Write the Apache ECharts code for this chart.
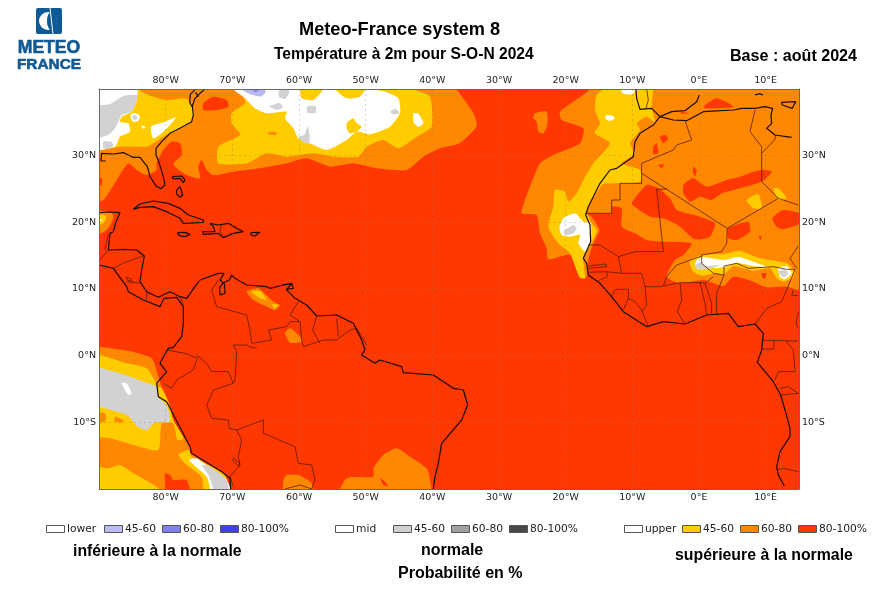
<!DOCTYPE html>
<html>
<head>
<meta charset="utf-8">
<title>Meteo-France system 8</title>
<script src="https://cdn.jsdelivr.net/npm/echarts@6/dist/echarts.min.js"></script>
<style>
  html, body { margin: 0; padding: 0; background: #fff; }
  #chart { width: 875px; height: 589px; }
</style>
</head>
<body>
<div id="chart"></div>
<script>
// ticks of the map, in degrees
const lonTicks = [-80, -70, -60, -50, -40, -30, -20, -10, 0, 10];
const latTicks = [-10, 0, 10, 20, 30];

// legend
const legendLower = ['lower', '45-60', '60-80', '80-100%'];
const legendMid = ['mid', '45-60', '60-80', '80-100%'];
const legendUpper = ['upper', '45-60', '60-80', '80-100%'];

// probability areas, [lon, lat]
const frame = [[-92, 42], [17, 42], [17, -22], [-92, -22]];

const orangeAtlantic = [[-92, 42], [-37.5, 42], [-36.35, 40], [-33.85, 36.35], [-33.35, 34.4], [-35.85, 31.9], [-38.85, 31.1], [-41.35, 29.85], [-43.85, 27.85], [-48.35, 28.1], [-51.85, 28.85], [-55.35, 28.35], [-58.85, 29.6], [-61.85, 28.85], [-65.85, 28.1], [-69.85, 27.6], [-72.85, 27.1], [-73.85, 27.85], [-74.6, 29.35], [-75.1, 28.35], [-74.85, 26.6], [-76.85, 27.1], [-78.35, 28.1], [-78.85, 28.85], [-77.6, 30.1], [-77.85, 31.85], [-79.1, 32.1], [-80.35, 30.85], [-81.35, 28.85], [-81.35, 27.85], [-82.85, 27.1], [-84.35, 27.85], [-85.6, 28.85], [-87.35, 26.35], [-88.6, 24.35], [-89.35, 23.35], [-92, 22.5]];
const orangeAfrica = [[-17, 42], [-16.35, 40], [-20.85, 36.6], [-20.6, 35.35], [-17.35, 34.1], [-17.85, 31.85], [-21.85, 30.1], [-23.85, 28.85], [-25.35, 25.35], [-26.1, 23.35], [-26.6, 21.35], [-24.35, 21.1], [-23.85, 18.35], [-22.85, 16.1], [-22.6, 14.45], [-19.35, 15.1], [-17.85, 11.6], [-16.85, 11.85], [-16.6, 14.35], [-15.85, 16.85], [-14.95, 18.85], [-16.1, 20.85], [-16.95, 21.35], [-13.1, 21.35], [-13.1, 22.35], [-11.6, 22.1], [-11.6, 19.35], [-9.6, 18.35], [-7.85, 17.35], [-5.6, 17.1], [-1.1, 16.85], [-2.35, 15.1], [-3.6, 14.35], [-4.85, 11.85], [-2.85, 10.85], [0.65, 11.35], [3.65, 10.45], [5.15, 11.85], [8.15, 11.1], [10.15, 10.25], [13.15, 10.35], [14.9, 9.85], [17, 9.6], [17, 42]];
const orangeYucatan = [[-92, 21.7], [-88.1, 21.45], [-87.85, 20.6], [-88.85, 18.85], [-92, 17.5]];
const orangePacific = [[-92, 0.9], [-86.35, 0.85], [-82.1, -0.4], [-81.1, -3.15], [-80.6, -4.65], [-79.6, -6.9], [-78.85, -9.65], [-77.35, -12.15], [-76.35, -13.9], [-76.35, -14.65], [-71.35, -17.65], [-70.35, -19.9], [-70.2, -22], [-92, -22]];
const orangeOrinoco = [[-67.85, 9.6], [-66.1, 10.1], [-63.85, 8.1], [-62.85, 7.6], [-63.6, 6.85], [-64.85, 7.35], [-66.85, 8.35]];
const orangeGuiana = [[-62.1, 3.35], [-61.35, 4.1], [-59.85, 2.85], [-59.6, 2.1], [-61.35, 1.95]];
const orangeBrazil = [[-54.3, -22], [-52.85, -18.4], [-48.85, -18.15], [-48.85, -16.9], [-47.35, -14.9], [-45.35, -13.9], [-43.35, -15.15], [-40.85, -16.9], [-40.35, -18.65], [-40.2, -22]];
const orangeChaco = [[-62.35, -18.65], [-61.85, -17.9], [-60.1, -17.9], [-58.1, -19.15], [-57.7, -22], [-62.2, -22]];
const orangeAzores = [[-24.6, 36.35], [-22.85, 36.6], [-22.75, 34.6], [-23.35, 33.35], [-24.1, 33.6], [-24.35, 35.1], [-24.85, 35.6]];
const orangeBitNorth = [[-64.6, 33.5], [-63.4, 33.5], [-63.4, 33.1], [-64.6, 33.2]];
const orangeBitWest = [[-92, -8.65], [-89.1, -8.65], [-89.1, -9.9], [-92, -9.9]];
const orangeBitEast = [[-87.6, -9.15], [-86.35, -9.65], [-86.35, -10], [-87.6, -9.9]];

const yellowWest = [[-92, 30.9], [-86.85, 31.35], [-82.85, 31.35], [-81.85, 31.85], [-80.35, 32.85], [-78.35, 33.85], [-76.35, 34.85], [-75.75, 36.35], [-76.1, 37.85], [-77.1, 38.6], [-79.85, 38.35], [-82.6, 39.1], [-84.1, 40], [-84.8, 42], [-92, 42]];
const yellowNorth = [[-72.1, 28.85], [-72.1, 31.35], [-68.85, 33.1], [-70.1, 34.85], [-70.1, 36.35], [-68.1, 37.85], [-68.35, 38.85], [-69.85, 40], [-71, 42], [-41, 42], [-42.6, 40], [-40.35, 38.85], [-40.1, 34.35], [-42.35, 32.85], [-45.1, 31.1], [-47.35, 32.35], [-49.85, 31.35], [-51.1, 29.85], [-54.85, 29.85], [-57.85, 30.35], [-61.85, 29.85], [-64.85, 30.35], [-67.85, 28.85]];
const yellowCoast = [[-13.5, 42], [-14.35, 39.95], [-15.35, 39.1], [-15.6, 36.85], [-14.85, 34.85], [-15.6, 33.35], [-13.35, 31.85], [-15.85, 28.85], [-17.35, 26.35], [-18.35, 24.35], [-19.6, 23.1], [-20.1, 24.6], [-21.6, 24.85], [-21.85, 22.35], [-22.6, 19.35], [-21.1, 16.85], [-19.35, 15.35], [-17.95, 11.85], [-17.1, 11.6], [-17.35, 14.6], [-16.1, 16.85], [-15.35, 18.85], [-16.1, 19.85], [-16.85, 21.85], [-15.1, 24.85], [-14.35, 25.75], [-8.85, 26.1], [-8.85, 27.85], [-11.6, 28.85], [-9.6, 30.35], [-10.35, 31.85], [-8.85, 33.85], [-9.35, 34.85], [-7.85, 35.85], [-6.6, 35], [-7.1, 37.35], [-6.85, 40], [-6.8, 42]];
const yellowSahel = [[-1.35, 14.35], [0.4, 15.1], [3.65, 15.25], [6.15, 15.7], [9.15, 14.6], [13.15, 13.85], [14.4, 12.6], [13.9, 11.6], [12.65, 11.1], [11.65, 11.6], [10.65, 13.1], [8.15, 12.75], [5.15, 13.45], [3.65, 12.1], [2.65, 12.35], [0.4, 12], [-0.85, 12.6], [-1.35, 13.6]];
const yellowAir = [[7.15, 23.35], [8.9, 24.25], [9.4, 22.1], [8.15, 22.1]];
const yellowLibya = [[11.15, 25.1], [11.9, 25.1], [13.15, 23.6], [11.9, 23.35]];
const yellowYucatan = [[-92, 21.3], [-89, 21], [-89.2, 20], [-92, 18.6]];
const yellowOrinoco = [[-67.1, 9.6], [-65.85, 9.7], [-64.85, 8.35], [-65.85, 8.6]];
const yellowOrinocoEast = [[-64.1, 7.75], [-63.1, 7.6], [-63.6, 7.1]];
const yellowPacific = [[-92, 0.2], [-85.85, -1.15], [-82.85, -1.9], [-81.1, -4.65], [-80.6, -4.9], [-79.6, -6.9], [-78.85, -9.65], [-77.35, -12.4], [-78.25, -12.65], [-78.85, -10.15], [-80.6, -10.15], [-81.1, -14.15], [-84.85, -13.4], [-88.35, -12.4], [-92, -11.7]];
const yellowSouth = [[-92, -16.5], [-88.6, -16.9], [-86.85, -16.4], [-84.85, -17.65], [-81.1, -19.9], [-80, -22], [-92, -22]];
const yellowChile = [[-78.1, -14.9], [-76.6, -14.15], [-76.1, -15.15], [-71.35, -17.65], [-70.35, -20], [-70.2, -22], [-74.4, -22], [-74.35, -20], [-74.6, -18.15], [-76.85, -16.4]];
const yellowBlob = [[-52.85, 34.85], [-51.85, 35.6], [-51.35, 34.85], [-50.6, 34.35], [-51.35, 33.6], [-52.35, 33.35], [-52.85, 34.1]];

const whiteNorth = [[-69.85, 40], [-68.1, 38.6], [-66.6, 37.1], [-64.85, 36.35], [-61.85, 36.6], [-62.1, 35.6], [-60.85, 34.1], [-60.1, 32.6], [-58.35, 31.85], [-55.85, 30.85], [-52.85, 32.35], [-51.35, 33.6], [-49.35, 33.2], [-46.35, 34.35], [-44.85, 36.35], [-45.1, 38.6], [-47.1, 39.6], [-49.85, 40], [-50.85, 38.85], [-52.85, 38.6], [-54.6, 40], [-55, 42], [-56, 42], [-56.35, 40], [-57.85, 38.35], [-59.6, 38.6], [-59.85, 40], [-60, 42], [-70.5, 42]];
const whiteWest = [[-92, 42], [-84.35, 42], [-84.35, 38.35], [-85.1, 36.6], [-86.6, 35.85], [-86.85, 35.1], [-85.6, 34.85], [-85.35, 33.6], [-86.85, 32.85], [-87.6, 31.35], [-92, 30.95]];
const whiteCape = [[-82.2, 34.35], [-80.1, 35.1], [-78.45, 35.75], [-79.35, 34.6], [-80.35, 33.6], [-81.85, 32.6]];
const whiteSpot = [[-83.6, 34.6], [-83, 34.2], [-83.5, 34.1]];
const whiteRing = [[-85.3, 36.1], [-84.6, 36.4], [-83.9, 36], [-84.1, 35.2], [-84.9, 35.1]];
const whiteEast = [[-42.85, 36.35], [-42.1, 36.3], [-41.35, 34.9], [-42.1, 34.3], [-42.8, 35]];
const whiteGibraltar = [[-12, 42], [-9.2, 42], [-9.85, 39.3], [-11.5, 39.4]];
const whiteMadeira = [[-14, 36], [-13, 36], [-12.6, 35.6], [-13.4, 35.2], [-14, 35.5]];
const whiteSenegal = [[-20.95, 19.1], [-20.35, 20.6], [-18.6, 21.35], [-17.35, 20.1], [-16.25, 19.85], [-16.25, 17.1], [-17.1, 15.6], [-18.1, 16.85], [-17.85, 18.1], [-19.35, 17.85], [-20.6, 18.1]];
const whiteSahel = [[-0.35, 14.35], [0.65, 14.75], [3.65, 14.35], [5.9, 14.85], [8.15, 14.1], [10.4, 13.25], [8.15, 13.45], [5.65, 13.95], [3.65, 13.25], [1.65, 13.1], [-0.1, 12.95], [-0.6, 13.6]];
const whiteChad = [[11.9, 13.1], [13.15, 13.45], [13.9, 12.35], [12.9, 11.45], [12.15, 11.85]];
const whiteNazca = [[-86.6, -4.15], [-85.85, -4.15], [-85.1, -5.65], [-85.6, -5.9]];
const whiteChile = [[-76.5, -15.65], [-75.35, -15.4], [-70.6, -19.15], [-70.35, -20], [-70.3, -22], [-73.4, -22], [-73.35, -20], [-73.85, -18.15]];
const whiteYucatan = [[-92, 20.9], [-89.5, 20.3], [-92, 19.4]];

const greyWest = [[-92, 37.2], [-88.35, 37.75], [-86.35, 38.95], [-84.35, 39.1], [-84.35, 38.35], [-85.1, 36.6], [-86.6, 36.1], [-87.1, 35.1], [-87.6, 34.1], [-88.6, 33.1], [-92, 32.4]];
const greyWestSmall = [[-89.35, 32.1], [-88.1, 32.1], [-87.85, 31.4], [-88.6, 31], [-89.35, 31.2]];
const greyRing = [[-85, 35.9], [-84.6, 36.1], [-84.2, 35.8], [-84.4, 35.4], [-84.8, 35.4]];
const greyNorthA = [[-62.95, 40], [-63, 38.8], [-62.1, 38.5], [-61.5, 39.4], [-61.6, 40]];
const greyNorthB = [[-64.4, 37.4], [-62.9, 37.9], [-62.4, 37.2], [-63.5, 36.9]];
const greyNorthC = [[-58.75, 37.4], [-57.5, 37.4], [-57.5, 36.45], [-58.75, 36.45]];
const greyNorthD = [[-60.1, 32.85], [-59.2, 33.1], [-58.7, 34.4], [-58.4, 33], [-58.5, 31.8], [-59.6, 32.2]];
const greyNorthE = [[-46.3, 36.6], [-45.5, 37], [-44.9, 36.4], [-45.8, 36.2]];
const greySenegal = [[-20.35, 18.6], [-18.85, 19.6], [-18.35, 19.1], [-18.85, 18.35], [-19.85, 18.1]];
const greySahel = [[-0.6, 13.6], [0.4, 14.1], [0.9, 13.45], [3.15, 13.6], [2.15, 13.2], [0.4, 12.95], [-0.35, 13.1]];
const greyChad = [[11.9, 12.6], [12.9, 12.95], [13.4, 12.25], [12.65, 11.75]];
const greyNazca = [[-92, -1.6], [-86.85, -2.65], [-83.35, -3.9], [-81.35, -4.65], [-81.1, -6.15], [-79.85, -7.4], [-79.35, -9.9], [-81.6, -10.05], [-82.85, -11.15], [-84.1, -10.75], [-85.85, -8.9], [-92, -6.7]];
const greyChile = [[-74.6, -16.4], [-73.35, -16.65], [-70.85, -18.55], [-70.6, -20], [-70.5, -22], [-72.85, -22], [-72.85, -20], [-73.6, -17.9]];

const blueCapeA = [[-68.6, 40], [-67.6, 39.35], [-65.85, 38.85], [-65.1, 39.35], [-65.1, 41], [-68.6, 41]];
const blueCapeB = [[-67.2, 40], [-66.5, 39.5], [-65.8, 40]];

const redCarolina = [[-74.35, 37.85], [-72.85, 38.85], [-70.85, 38.35], [-70.6, 37.35], [-72.35, 36.85], [-74.35, 36.85]];
const redGulf = [[-92, 27], [-89.6, 26.6], [-89.6, 25.6], [-92, 25.2]];
const redMoroccoA = [[-5.85, 32.85], [-5.1, 33.1], [-4.6, 32.6], [-5.35, 31.85]];
const redMoroccoB = [[-6.85, 31.35], [-6.35, 31.85], [-6.1, 30.35], [-6.85, 30.25]];
const redMoroccoC = [[-6.1, 28.6], [-5.25, 28.7], [-5.6, 28.1]];
const redAlgeriaA = [[-0.85, 28.35], [-0.35, 27.85], [-0.6, 26.85], [-0.9, 27.5]];
const redAlgeriaB = [[0.65, 37.35], [2.65, 38.6], [5.15, 37.35], [1.15, 37.1]];
const redAlboran = [[-2.85, 36.6], [-1.35, 36.35], [-2.5, 36.3]];
const redMali = [[-10.1, 22.85], [-7.85, 25.6], [-6.1, 25.1], [-4.35, 23.6], [-3.35, 21.85], [0.15, 20.85], [2.4, 19.85], [1.65, 17.85], [-0.6, 17.45], [-2.85, 19.35], [-5.35, 20.6], [-7.35, 20.85], [-9.35, 22.1]];
const redSahara = [[-1.85, 26.1], [-0.85, 26.6], [1.15, 25.35], [4.15, 26.35], [6.15, 26.85], [8.15, 27.6], [9.65, 27.85], [10.9, 27.6], [9.4, 26.1], [5.15, 24.85], [3.4, 24.35], [1.9, 23.35], [0.15, 23.85], [-1.35, 23.1], [-2.35, 24.35], [-2.35, 25.6]];
const redNiger = [[4.4, 19.1], [7.4, 20.1], [7.65, 18.6], [5.65, 17.35], [4.4, 17.6]];
const redChad = [[11, 20.6], [12.65, 21.85], [16, 21.1], [16, 20.1], [12.65, 18.95], [11.65, 19.35]];
const redSpot = [[9, 17.9], [9.4, 17.9], [9.2, 17.3]];
const redNigeria = [[9.4, 12.35], [10.1, 12.35], [9.9, 11.6], [9.5, 11.7]];
const redPacific = [[-80.1, -17.65], [-79.35, -17.9], [-78.85, -18.65], [-76.85, -18.65], [-76.2, -22], [-79.8, -22], [-80.1, -18.65]];
const redBrazil = [[-47.85, -18.4], [-47.1, -18.9], [-46.6, -19.65], [-47.35, -19.4]];

// coastlines and borders, [lon, lat]
const coastAmericaNorth = [[-74.25, 39.85], [-74.85, 39.35], [-75.6, 38.6], [-76, 37.45], [-75.85, 36.1], [-76.1, 35.1], [-77.6, 34.25], [-79.35, 33.35], [-80.6, 32.1], [-81.45, 31.1], [-81.45, 30.1], [-80.95, 28.85], [-80.35, 26.85], [-80.1, 25.6], [-80.7, 25.05], [-81.45, 25.45], [-82.35, 26.85], [-82.75, 28.35], [-83.85, 29.75], [-84.85, 29.75], [-85.6, 30.1], [-86.35, 30.45], [-87.85, 30.25], [-89.6, 30.35], [-89.7, 29.2], [-89, 29.2]];
const coastChesapeake = [[-75.6, 39.9], [-76.3, 39.2], [-76.4, 38], [-76, 37.3]];
const coastDelaware = [[-75.5, 39.5], [-75.1, 38.8]];
const coastBahamaA = [[-79, 26.85], [-77.6, 26.95], [-77.1, 26.35], [-77.35, 25.95], [-77.85, 26.6], [-78.85, 26.5], [-79, 26.85]];
const coastBahamaB = [[-78.35, 24.85], [-77.85, 25.35], [-77.45, 24.1], [-77.85, 23.75], [-78.35, 24.25], [-78.35, 24.85]];
const coastCuba = [[-84.85, 21.95], [-83.85, 22.75], [-81.85, 23.2], [-79.6, 22.85], [-77.85, 22.1], [-76.6, 21.1], [-74.35, 20.35], [-74.35, 20], [-77.35, 19.85], [-77.85, 20.6], [-79.85, 21.6], [-81.85, 22.35], [-83.85, 22.25], [-84.85, 21.95]];
const coastJamaica = [[-78.25, 18.45], [-77.1, 18.5], [-76.35, 18.2], [-77.1, 17.85], [-77.95, 18], [-78.25, 18.45]];
const coastHispaniola = [[-73.35, 19.85], [-72.1, 19.6], [-70.6, 19.85], [-69.35, 19.1], [-68.35, 18.6], [-69.85, 18.35], [-71.35, 17.7], [-72.1, 18.35], [-74.35, 18.2], [-74.45, 18.6], [-72.6, 18.6], [-72.85, 19.35], [-73.35, 19.85]];
const coastPuertoRico = [[-67.25, 18.45], [-65.85, 18.5], [-65.6, 18.2], [-66.6, 17.95], [-67.2, 18.1], [-67.25, 18.45]];
const coastCaribbean = [[-90, 21.45], [-88.35, 21.55], [-86.85, 21.45], [-87.45, 20.1], [-87.85, 18.6], [-88.35, 18.35], [-88.6, 15.85], [-86.35, 15.95], [-84.35, 15.85], [-83.2, 14.95], [-83.6, 12.85], [-83.85, 11.1], [-82.85, 9.6], [-81.1, 8.75], [-79.35, 9.6], [-77.85, 8.85], [-76.85, 8.6], [-75.6, 10.35], [-74.85, 11.35], [-72.1, 12.35], [-71.25, 12.35], [-71.85, 11.35], [-71.2, 10.8], [-71.1, 9.35], [-71.85, 9.1], [-71.9, 10.2], [-71.4, 10.9], [-70.45, 11.35], [-70.1, 12.1], [-69.6, 11.6], [-67.85, 10.6], [-64.85, 10.35], [-64.35, 10.1], [-62.35, 10.6], [-61.1, 10.75], [-61.9, 9.9], [-60.6, 8.6], [-58.85, 7.6], [-57.35, 5.95], [-54.35, 6.1], [-51.85, 4.85], [-50.6, 2.35], [-50.1, 0.85], [-50.6, 0.1], [-48.6, -1.15], [-47.85, -0.65], [-44.6, -1.65], [-44.35, -2.55], [-39.85, -2.9], [-36.85, -4.9], [-35.35, -5.15], [-34.7, -7.4], [-35.6, -9.65], [-38.6, -13.15], [-39.1, -16.15], [-39.6, -18.15], [-39.85, -20]];
const coastPacificCentral = [[-89.95, 13.6], [-87.85, 13.1], [-85.85, 10.35], [-85.6, 9.6], [-83.35, 8.35], [-80.85, 7.35], [-80.25, 8.6], [-78.35, 8.75], [-77.35, 7.35], [-77.35, 4.85], [-77.6, 2.85], [-78.85, 1.25], [-79.6, 1.1], [-80.85, -1.15], [-79.85, -2.4], [-81.35, -4.15], [-81.1, -6.15], [-79.85, -6.9], [-76.35, -13.65], [-76.1, -14.65], [-71.6, -17.4], [-70.35, -18.4], [-70.25, -20]];
const coastTrinidad = [[-62.6, 10.6], [-61.1, 10.85], [-60.85, 10.1], [-61.85, 9.95]];
const coastIberia = [[0.05, 39.1], [-0.35, 38.1], [-2.1, 36.75], [-4.1, 36.6], [-5.85, 35.85], [-7.1, 37.1], [-8.85, 36.95], [-9.35, 38.6], [-9.45, 39.85]];
const coastAfricaNorth = [[13.9, 32.75], [11.4, 33.1], [10.15, 34.1], [10.9, 34.85], [10.8, 36.1], [11.05, 37.1], [9.9, 37.35], [8.4, 37.1], [6.4, 37.1], [5.15, 36.85], [0.65, 36.6], [-1.85, 35.25], [-3.85, 35.35], [-5.85, 35.85]];
const coastAfricaWest = [[-5.85, 35.85], [-6.85, 34.6], [-8.85, 33.35], [-9.6, 32.1], [-9.85, 29.85], [-12.35, 28.1], [-13.35, 27.85], [-14.85, 25.85], [-16.1, 23.35], [-16.6, 22.35], [-17, 21.1], [-16.35, 19.6], [-16.25, 17.1], [-17.35, 14.6], [-16.85, 13.85], [-16.6, 12.1], [-14.85, 10.85], [-13.1, 8.85], [-11.35, 6.6], [-7.85, 4.35], [-5.35, 5.1], [-2.1, 4.75], [1.15, 6.1], [4.4, 6.35], [5.9, 4.35], [8.4, 4.75], [9.65, 3.35], [9.4, 0.85], [8.75, -1], [11.15, -3.9], [12.25, -5.9], [13.05, -8.65], [13.65, -10.9], [13.65, -12.15], [12.15, -14.4], [11.65, -16.65], [11.9, -17.9], [12.8, -19.55]];
const coastSicily = [[12.35, 38], [14.5, 38.1], [14, 37.1], [12.5, 37.6], [12.35, 38]];
const coastSardinia = [[8.4, 39.1], [9.1, 39.3], [9.6, 39.1]];

const borderLines = [
  [[-71.6, 19.85], [-71.85, 18.6], [-71.35, 17.7]],
  [[-88.6, 15.85], [-90, 14.2]],
  [[-88.6, 18.2], [-89.1, 15.9]],
  [[-83.35, 14.95], [-86.35, 13.9], [-87.85, 13.1]],
  [[-85.85, 11.1], [-83.85, 10.9]],
  [[-82.85, 9.6], [-82.85, 8.35]],
  [[-77.85, 8.85], [-77.35, 7.6]],
  [[-85.95, 11.8], [-85.1, 11.45], [-85.1, 11.1], [-85.75, 11.35], [-85.95, 11.8]],
  [[-72.1, 11.35], [-73.1, 9.85], [-72.35, 7.35], [-67.85, 6.1], [-67.35, 3.85], [-67.1, 1.85]],
  [[-67.1, 1.85], [-64.1, 2.35], [-64.6, 3.85], [-61.85, 4.35], [-61.35, 5.1], [-59.85, 5.1], [-59.6, 2.35], [-59.35, 1.35]],
  [[-60.1, 8.1], [-61.35, 6.1], [-59.85, 5.1]],
  [[-57.35, 5.85], [-57.95, 3.85], [-56.85, 1.85]],
  [[-54.35, 5.6], [-54.1, 2.85]],
  [[-59.35, 1.35], [-56.35, 2.35], [-54.35, 2.35], [-52.35, 3.85], [-51.35, 4.1], [-49.85, 1.6]],
  [[-69.85, 1.6], [-69.35, 0.6], [-69.6, -3.65], [-69.85, -4.15]],
  [[-69.85, 1.6], [-67.85, 1.6], [-67.35, 1.3], [-66.35, 1.1]],
  [[-69.85, -4.15], [-70.6, -2.4], [-73.1, -2.4], [-73.85, -1.15], [-75.35, 0.1]],
  [[-79.85, 0.85], [-77.1, 0.35], [-75.25, -0.4]],
  [[-75.25, -0.4], [-75.85, -2.15], [-78.35, -3.65], [-79.1, -4.9], [-80.35, -4.15]],
  [[-69.85, -4.15], [-72.85, -5.15], [-73.85, -7.4], [-73.1, -9.4], [-70.6, -9.65], [-70.45, -10.9], [-69.35, -11.15]],
  [[-69.35, -11.15], [-65.35, -9.65], [-65.35, -11.65], [-60.6, -13.65], [-60.1, -16.15], [-58.1, -16.4], [-57.6, -18.65], [-58.1, -20]],
  [[-69.35, -11.15], [-68.6, -12.65], [-69.1, -15.15], [-68.85, -16.4], [-70.35, -18.15]],
  [[-69.85, -15.4], [-68.85, -16.15], [-68.95, -16.55], [-69.95, -15.75], [-69.85, -15.4]],
  [[-70.35, -18.15], [-69.85, -19.65]],
  [[-62.1, -20], [-59.85, -19.4], [-58.1, -20]],
  [[-7.85, 39.95], [-7.6, 38.35], [-7.95, 37.1]],
  [[-2.1, 35.25], [-1.1, 32.35], [-3.35, 31.6], [-3.85, 30.85], [-8.6, 28.85], [-8.6, 25.85], [-11.85, 25.85], [-11.85, 23.35], [-13.1, 23.35], [-13.1, 21.35], [-17, 21.35]],
  [[-8.6, 27.35], [-2.35, 23.35], [2.65, 20.1], [4.25, 19.1], [11.9, 23.6], [14.9, 22.6]],
  [[-6.35, 24.95], [-5.35, 15.6], [-9.6, 15.6], [-12.1, 14.85], [-14.85, 16.6], [-16.6, 16.6]],
  [[-6.35, 24.95], [-4.85, 25]],
  [[8.4, 36.85], [7.65, 33.6], [9.4, 31.35], [9.4, 30.35]],
  [[11.4, 33.1], [11.4, 32.45], [9.4, 30.35], [9.4, 26.1], [11.15, 24.35], [11.9, 23.6]],
  [[4.25, 19.1], [4.15, 16.85], [3.4, 15.6], [0.4, 15.1], [0.4, 13.85], [2.15, 12.35], [3.75, 12.1]],
  [[0.4, 14.95], [-3.35, 13.6], [-4.85, 11.85], [-5.35, 10.45]],
  [[3.75, 12.1], [3.75, 13.45], [5.65, 13.85], [7.4, 13.1], [11.15, 13.35], [13.15, 12.95], [14.4, 12.95]],
  [[14.9, 16.45], [13.65, 14.6], [14.65, 13.1]],
  [[3.75, 12.1], [2.65, 9.35], [2.65, 6.35]],
  [[-5.35, 10.45], [-2.85, 10.95], [0.15, 10.95], [0.9, 10.85], [2.15, 11.85]],
  [[-2.85, 10.95], [-2.6, 8.35], [-3.25, 6.6], [-2.1, 4.75]],
  [[0.15, 10.95], [0.9, 7.85], [1.15, 6.1]],
  [[0.9, 10.85], [1.9, 7.85], [1.9, 6.1]],
  [[-12.1, 14.85], [-11.6, 12.35]],
  [[-16.6, 12.5], [-13.85, 12.6], [-11.6, 12.35], [-8.6, 12.35], [-8.1, 10.35], [-5.85, 10.35], [-5.35, 10.45]],
  [[-16.6, 13.45], [-13.95, 13.75], [-13.85, 13.35], [-16.6, 13.1]],
  [[-13.85, 12.6], [-13.75, 11.85], [-15.1, 11.25]],
  [[-13.1, 8.85], [-12.6, 9.95], [-10.6, 9.95], [-10.6, 8.6], [-11.35, 6.85]],
  [[-10.6, 8.6], [-9.6, 8.1], [-8.6, 6.85], [-7.6, 4.35]],
  [[-8.1, 10.35], [-7.85, 7.6], [-8.6, 6.6]],
  [[14.4, 12.95], [13.15, 9.85], [12.4, 8.1], [10.15, 7.1], [8.4, 4.75]],
  [[14.15, 9.85], [13.9, 9.1], [14.9, 9]],
  [[14.9, 6.6], [14.55, 4.85], [14.9, 4.1]],
  [[9.4, 2.3], [14.9, 2.2]],
  [[11.25, 2.3], [11.25, 1], [9.4, 1]],
  [[13.05, 2.2], [14.15, 0.85], [14.4, -2.4], [11.9, -2.4], [11.4, -3.65]],
  [[12.15, -4.9], [13.4, -4.65], [14.9, -5.65]],
  [[12.25, -5.9], [14.9, -5.65]],
  [[11.65, -17.15], [12.65, -16.9], [14.9, -17.4]]
];

const RED = '#ff3700', ORANGE = '#ff8800', YELLOW = '#ffcc00', WHITE = '#ffffff', GREY = '#d2d2d2', BLUE1 = '#b9b9f5', BLUE2 = '#8585ee';

// painted in this order, later areas sit on top
const layers = [
  [RED, [frame]],
  [ORANGE, [orangeAtlantic, orangeAfrica, orangeYucatan, orangePacific, orangeOrinoco, orangeGuiana, orangeBrazil, orangeChaco, orangeAzores]],
  [YELLOW, [yellowWest, yellowNorth, yellowCoast, yellowSahel, yellowAir, yellowLibya, yellowYucatan, yellowOrinoco, yellowOrinocoEast, yellowPacific, yellowSouth, yellowChile]],
  [WHITE, [whiteNorth, whiteWest, whiteCape, whiteSpot, whiteRing, whiteEast, whiteGibraltar, whiteMadeira, whiteSenegal, whiteSahel, whiteChad, whiteChile, whiteYucatan]],
  [GREY, [greyWest, greyWestSmall, greyRing, greyNorthA, greyNorthB, greyNorthC, greyNorthD, greyNorthE, greySenegal, greySahel, greyChad, greyNazca, greyChile]],
  [WHITE, [whiteNazca]],
  [YELLOW, [yellowBlob]],
  [ORANGE, [orangeBitNorth, orangeBitWest, orangeBitEast]],
  [BLUE1, [blueCapeA]],
  [BLUE2, [blueCapeB]],
  [RED, [redCarolina, redGulf, redMoroccoA, redMoroccoB, redMoroccoC, redAlgeriaA, redAlgeriaB, redAlboran, redMali, redSahara, redNiger, redChad, redSpot, redNigeria, redPacific, redBrazil]]
];

const areas = [];
layers.forEach(function (l) {
  l[1].forEach(function (pts) { areas.push({ color: l[0], pts: pts }); });
});

const coasts = [coastAmericaNorth, coastChesapeake, coastDelaware, coastBahamaA, coastBahamaB, coastCuba, coastJamaica, coastHispaniola, coastPuertoRico, coastCaribbean, coastPacificCentral, coastTrinidad, coastIberia, coastAfricaNorth, coastAfricaWest, coastSicily, coastSardinia];

function lonLabel(v) {
  if (lonTicks.indexOf(v) < 0) return '';
  return v < 0 ? (-v) + '°W' : v + '°E';
}
function latLabel(v) {
  if (latTicks.indexOf(v) < 0) return '';
  return v < 0 ? (-v) + '°S' : v + '°N';
}

function xAxisAt(position) {
  return {
    type: 'value', position: position, min: -90, max: 15, interval: 10, z: 5,
    axisLine: { show: true, onZero: false, lineStyle: { color: '#6a6a6a', width: 1 } },
    axisTick: { show: false },
    splitLine: { show: position === 'bottom', lineStyle: { color: 'rgba(130,120,90,0.3)', type: [2, 3], width: 1 } },
    axisLabel: { formatter: lonLabel, margin: position === 'top' ? 3 : 4, color: '#222', fontFamily: 'DejaVu Sans', fontSize: 9.5 }
  };
}
function yAxisAt(position) {
  return {
    type: 'value', position: position, min: -20, max: 40, interval: 10, z: 5,
    axisLine: { show: true, onZero: false, lineStyle: { color: '#6a6a6a', width: 1 } },
    axisTick: { show: false },
    splitLine: { show: position === 'left', lineStyle: { color: 'rgba(130,120,90,0.3)', type: [2, 3], width: 1 } },
    axisLabel: { formatter: latLabel, margin: 3, color: '#222', fontFamily: 'DejaVu Sans', fontSize: 9.5 }
  };
}

function label(text, x, y, size, align) {
  return {
    type: 'text', x: x, y: y, z: 20,
    style: { text: text, fill: '#000', font: 'bold ' + size + 'px "Liberation Sans"', textAlign: align || 'left', textVerticalAlign: 'middle' }
  };
}

function legendGroup(names, colors, xs) {
  const out = [];
  names.forEach(function (name, i) {
    out.push({ type: 'rect', x: xs[i], y: 525, z: 20, shape: { x: 0.5, y: 0.5, width: 18, height: 7 }, style: { fill: colors[i], stroke: '#555', lineWidth: 1 } });
    out.push({ type: 'text', x: xs[i] + 21, y: 529, z: 20, style: { text: name, fill: '#222', font: '10.7px "DejaVu Sans"', textVerticalAlign: 'middle' } });
  });
  return out;
}

const logoBlue = '#0f5a94';
const graphics = [
  { type: 'rect', x: 36, y: 8, z: 20, shape: { width: 26, height: 26, r: 2 }, style: { fill: logoBlue } },
  { type: 'circle', x: 48, y: 21, z: 21, shape: { r: 9 }, style: { fill: '#fff' } },
  { type: 'ellipse', x: 52, y: 21, z: 22, shape: { rx: 5, ry: 9.5 }, style: { fill: logoBlue } },
  { type: 'line', x: 0, y: 0, z: 23, shape: { x1: 50, y1: 8, x2: 53, y2: 34 }, style: { stroke: '#fff', lineWidth: 1 } },
  { type: 'text', x: 49, y: 48, z: 20, style: { text: 'METEO', fill: logoBlue, stroke: logoBlue, lineWidth: 0.6, font: 'bold 17.6px "Liberation Sans"', textAlign: 'center', textVerticalAlign: 'middle' } },
  { type: 'text', x: 49, y: 64.5, z: 20, style: { text: 'FRANCE', fill: logoBlue, stroke: logoBlue, lineWidth: 0.6, font: 'bold 15.4px "Liberation Sans"', textAlign: 'center', textVerticalAlign: 'middle' } },
  label('Meteo-France system 8', 299, 30, 18.2),
  label('Température à 2m pour S-O-N 2024', 274, 55, 15.6),
  label('Base : août 2024', 730, 57, 16.1),
  label('inférieure à la normale', 73, 552, 15.8),
  label('normale', 421, 551, 16),
  label('Probabilité en %', 398, 574, 16),
  label('supérieure à la normale', 675, 556, 15.85)
].concat(
  legendGroup(legendLower, ['#fff', '#bbbbf5', '#8080ee', '#4040ee'], [46, 104, 162, 220]),
  legendGroup(legendMid, ['#fff', '#d0d0d0', '#a0a0a0', '#484848'], [335, 393, 451, 509]),
  legendGroup(legendUpper, ['#fff', YELLOW, ORANGE, RED], [624, 682, 740, 798])
);

const series = [{
  type: 'custom',
  coordinateSystem: 'cartesian2d',
  clip: true,
  silent: true,
  z: 2,
  data: areas.map(function (a, i) { return [a.pts[0][0], a.pts[0][1], i]; }),
  renderItem: function (params, api) {
    const a = areas[api.value(2)];
    return {
      type: 'polygon',
      shape: { points: a.pts.map(function (p) { return api.coord(p); }), smooth: 0.2 },
      style: { fill: a.color }
    };
  }
}];
coasts.forEach(function (c) {
  series.push({ type: 'line', data: c, showSymbol: false, silent: true, z: 4, lineStyle: { color: '#1a0a00', width: 1.2 } });
});
borderLines.forEach(function (b) {
  series.push({ type: 'line', data: b, showSymbol: false, silent: true, z: 3, lineStyle: { color: '#5a1c00', width: 0.8 } });
});

const chart = echarts.init(document.getElementById('chart'), null, { renderer: 'canvas' });
chart.setOption({
  animation: false,
  backgroundColor: '#fff',
  grid: { left: 99, top: 89, width: 700, height: 400, containLabel: false },
  xAxis: [xAxisAt('bottom'), xAxisAt('top')],
  yAxis: [yAxisAt('left'), yAxisAt('right')],
  tooltip: { show: false },
  graphic: graphics,
  series: series
});
</script>
</body>
</html>
